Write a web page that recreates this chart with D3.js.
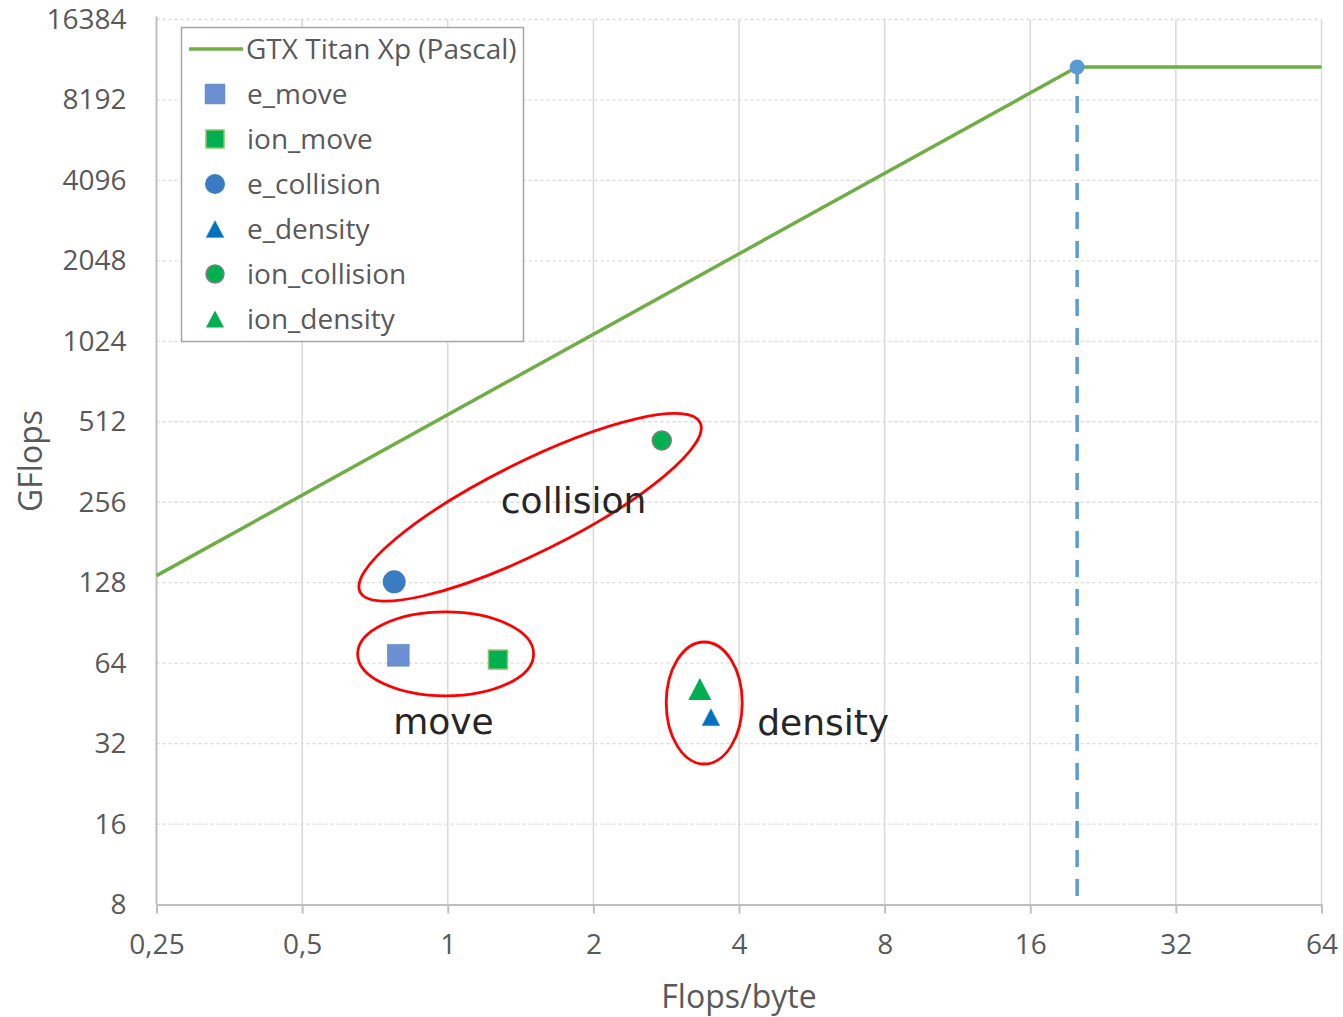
<!DOCTYPE html>
<html>
<head>
<meta charset="utf-8">
<script src="https://cdn.jsdelivr.net/npm/d3@7"></script>
<style>
  body { margin: 0; background: #fff; }
  svg { display: block; }
  text { font-family: "Open Sans", "Noto Sans", sans-serif; }
</style>
</head>
<body>
<svg id="chart" width="1343" height="1017"></svg>
<script>
// roofline of the GPU (bandwidth slope then compute ceiling)
var rooflineName = "GTX Titan Xp (Pascal)";
var rooflineX = [0.25, 20, 64];
var rooflineY = [136, 10880, 10880];

// measured kernels
var kernelNames = ["e_move", "ion_move", "e_collision", "e_density", "ion_collision", "ion_density"];
var kernelX = [0.79, 1.27, 0.775, 3.50, 2.77, 3.32];
var kernelY = [68.5, 66, 129, 40.2, 436, 51.2];

// axis ticks
var xTicks = [0.25, 0.5, 1, 2, 4, 8, 16, 32, 64];
var xTickLabels = ["0,25", "0,5", "1", "2", "4", "8", "16", "32", "64"];
var yTicks = [8, 16, 32, 64, 128, 256, 512, 1024, 2048, 4096, 8192, 16384];

// group annotations (centre in data units)
var groupNames = ["collision", "move", "density"];
var groupCx = [1.48, 0.99, 3.39];
var groupCy = [245, 69.3, 45.4];
var labelX = [1.82, 0.98, 5.97];
var labelY = [233, 34.8, 34.4];

var style = {
	e_move:        {shape: "square",   size: 22, fill: "#6b8fd0", stroke: "#6b8fd0", sw: 0.5, lsize: 20},
	ion_move:      {shape: "square",   size: 19, fill: "#00b050", stroke: "#8fc46a", sw: 1.5, lsize: 18},
	e_collision:   {shape: "circle",   size: 23, fill: "#3a7cc2", stroke: "#3a7cc2", sw: 0,   lsize: 20},
	e_density:     {shape: "triangle", size: 18, fill: "#0070c0", stroke: "#5b9bd5", sw: 0.5, lsize: 18},
	ion_collision: {shape: "circle",   size: 19, fill: "#00b050", stroke: "#7f7f7f", sw: 1.5, lsize: 18},
	ion_density:   {shape: "triangle", size: 23, fill: "#00b050", stroke: "#00b050", sw: 0,   lsize: 18}
};

var svg = d3.select("#chart");
var margin = {left: 156.5, right: 1321.5, top: 19.5, bottom: 904.5};

var x = d3.scaleLog().base(2).domain([0.25, 64]).range([margin.left, margin.right]);
var y = d3.scaleLog().base(2).domain([8, 16384]).range([margin.bottom, margin.top]);

// gridlines
svg.append("g").selectAll("line").data(yTicks.slice(1)).enter().append("line")
	.attr("x1", margin.left).attr("x2", margin.right)
	.attr("y1", function(d){ return y(d); }).attr("y2", function(d){ return y(d); })
	.attr("stroke", "#d9d9d9").attr("stroke-width", 1.3).attr("stroke-dasharray", "3,3");

svg.append("g").selectAll("line").data(xTicks.slice(1)).enter().append("line")
	.attr("x1", function(d){ return x(d); }).attr("x2", function(d){ return x(d); })
	.attr("y1", margin.top).attr("y2", margin.bottom)
	.attr("stroke", "#d9d9d9").attr("stroke-width", 1.5);

// axes
var xAxis = d3.axisBottom(x).tickValues(xTicks)
	.tickFormat(function(d, i){ return xTickLabels[i]; })
	.tickSize(9).tickSizeOuter(0).tickPadding(21);
var gx = svg.append("g").attr("transform", "translate(0," + margin.bottom + ")").call(xAxis);
gx.select(".domain").attr("stroke", "#bfbfbf").attr("stroke-width", 2);
gx.selectAll(".tick line").attr("stroke", "#bfbfbf").attr("stroke-width", 2);
gx.selectAll("text").attr("fill", "#595959").style("font-size", "28px");

var yAxis = d3.axisLeft(y).tickValues(yTicks).tickFormat(d3.format("d"))
	.tickSize(0).tickPadding(30);
var gy = svg.append("g").attr("transform", "translate(" + margin.left + ",0)").call(yAxis);
gy.select(".domain").attr("stroke", "#bfbfbf").attr("stroke-width", 2).attr("d", "M0," + (margin.top - 3) + "V" + margin.bottom);
gy.selectAll("text").attr("fill", "#595959").style("font-size", "28px");

// axis titles
svg.append("text").attr("x", (margin.left + margin.right) / 2).attr("y", 1008)
	.attr("text-anchor", "middle").attr("fill", "#595959").style("font-size", "32px")
	.text("Flops/byte");
svg.append("text").attr("transform", "translate(42,461) rotate(-90)")
	.attr("text-anchor", "middle").attr("fill", "#595959").style("font-size", "32px")
	.text("GFlops");

// roofline
var roof = rooflineX.map(function(d, i){ return [d, rooflineY[i]]; });
svg.append("path").datum(roof)
	.attr("d", d3.line().x(function(d){ return x(d[0]); }).y(function(d){ return y(d[1]); }))
	.attr("fill", "none").attr("stroke", "#70ad47").attr("stroke-width", 3.5);

// ridge point drop line
svg.append("line")
	.attr("x1", x(rooflineX[1])).attr("x2", x(rooflineX[1]))
	.attr("y1", y(rooflineY[1])).attr("y2", y(8) - 5)
	.attr("stroke", "#5b9bd5").attr("stroke-width", 3.5).attr("stroke-dasharray", "17,12");
svg.append("circle").attr("cx", x(rooflineX[1])).attr("cy", y(rooflineY[1])).attr("r", 7.5)
	.attr("fill", "#5b9bd5");

function drawMarker(g, s, size){
	if(s.shape == "square"){
		g.append("rect").attr("x", -size / 2).attr("y", -size / 2).attr("width", size).attr("height", size);
	}else if(s.shape == "circle"){
		g.append("circle").attr("r", size / 2);
	}else{
		var h = size * 0.95;
		g.append("path").attr("d", "M0," + (-h / 2) + "L" + (size / 2) + "," + (h / 2) + "L" + (-size / 2) + "," + (h / 2) + "Z");
	}
	g.selectAll("*").attr("fill", s.fill).attr("stroke", s.stroke).attr("stroke-width", s.sw);
}

// kernel points
kernelNames.forEach(function(name, i){
	var g = svg.append("g").attr("transform", "translate(" + x(kernelX[i]) + "," + y(kernelY[i]) + ")");
	drawMarker(g, style[name], style[name].size);
});

// group ellipses + labels
var ellR = [[190, 45, -26.5], [88, 42, 0], [38, 61, 0]];
groupNames.forEach(function(name, i){
	svg.append("ellipse")
		.attr("transform", "translate(" + x(groupCx[i]) + "," + y(groupCy[i]) + ") rotate(" + ellR[i][2] + ")")
		.attr("rx", ellR[i][0]).attr("ry", ellR[i][1])
		.attr("fill", "none").attr("stroke", "#ff0000").attr("stroke-width", 2.8);
	svg.append("text").attr("x", x(labelX[i])).attr("y", y(labelY[i]))
		.attr("text-anchor", "middle").attr("fill", "#262626")
		.style("font-family", "'DejaVu Sans', sans-serif").style("font-size", "36px")
		.text(name);
});

// legend
var legend = svg.append("g");
legend.append("rect").attr("x", 181.5).attr("y", 27.5).attr("width", 342).attr("height", 314)
	.attr("fill", "#fff").attr("stroke", "#a6a6a6").attr("stroke-width", 1.5);
legend.append("line").attr("x1", 189).attr("x2", 243).attr("y1", 49).attr("y2", 49)
	.attr("stroke", "#70ad47").attr("stroke-width", 3.5);
legend.append("text").attr("x", 246).attr("y", 59).attr("fill", "#595959")
	.style("font-size", "28px").text(rooflineName);
kernelNames.forEach(function(name, i){
	var cy = 94 + i * 45;
	var g = legend.append("g").attr("transform", "translate(215," + cy + ")");
	drawMarker(g, style[name], style[name].lsize);
	legend.append("text").attr("x", 247).attr("y", cy + 10).attr("fill", "#595959")
		.style("font-size", "28px").text(name);
});
</script>
</body>
</html>
